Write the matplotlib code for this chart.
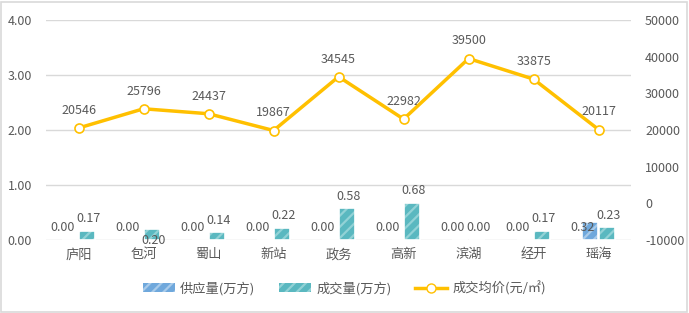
import matplotlib
matplotlib.use('Agg')
import matplotlib.pyplot as plt
import numpy as np
from matplotlib.patches import Rectangle
from matplotlib.lines import Line2D
from matplotlib.patches import Patch

plt.rcParams['font.family'] = ['Noto Sans CJK SC', 'DejaVu Sans']
plt.rcParams['hatch.linewidth'] = 1.6

# data
districts = ['庐阳', '包河', '蜀山', '新站', '政务', '高新', '滨湖', '经开', '瑶海']
supply = [0.00, 0.00, 0.00, 0.00, 0.00, 0.00, 0.00, 0.00, 0.32]
deal = [0.17, 0.20, 0.14, 0.22, 0.58, 0.68, 0.00, 0.17, 0.23]
price = [20546, 25796, 24437, 19867, 34545, 22982, 39500, 33875, 20117]

TXT = '#595959'
GRID = '#D9D9D9'
C_SUP = '#6FA8DC'
C_SUP_H = '#A9CBEA'
C_DEAL = '#5AB8C0'
C_DEAL_H = '#92D2D6'
C_LINE = '#FFC000'

fig = plt.figure(figsize=(6.89, 3.13), dpi=100)
fig.patches.append(Rectangle((0.002, 0.004), 0.995, 0.99, transform=fig.transFigure,
                             fill=False, edgecolor=GRID, linewidth=1.2))
ax = fig.add_axes([0.0668, 0.2332, 0.8492, 0.7028])
ax2 = ax.twinx()

x = np.arange(len(districts))
w = 0.24

ax.bar(x - w / 2 - 0.01, supply, w, facecolor=C_SUP, edgecolor=C_SUP_H, hatch='///',
       linewidth=0, zorder=3)
ax.bar(x + w / 2 + 0.01, deal, w, facecolor=C_DEAL, edgecolor=C_DEAL_H, hatch='///',
       linewidth=0, zorder=3)
# white outline round bars
ax.bar(x - w / 2 - 0.01, supply, w, fill=False, edgecolor='white', linewidth=1.2, zorder=4)
ax.bar(x + w / 2 + 0.01, deal, w, fill=False, edgecolor='white', linewidth=1.2, zorder=4)

for i in range(len(districts)):
    # supply labels sit just above the baseline (as in the source chart)
    ax.annotate('%.2f' % supply[i], (x[i] - w / 2 - 0.12, 0), xytext=(0, 4),
                textcoords='offset points', ha='center', va='bottom',
                fontsize=9, color=TXT, zorder=6)
    if i == 1:
        ax.annotate('%.2f' % deal[i], (x[i] + w / 2 + 0.03, 0), xytext=(0, 0),
                    textcoords='offset points', ha='center', va='center',
                    fontsize=9, color=TXT, zorder=6)
    else:
        ax.annotate('%.2f' % deal[i], (x[i] + w / 2 + 0.03, deal[i]), xytext=(0, 4),
                    textcoords='offset points', ha='center', va='bottom',
                    fontsize=9, color=TXT, zorder=6)

ax.set_ylim(0, 4)
ax.set_yticks([0, 1, 2, 3, 4])
ax.set_yticklabels(['%.2f' % v for v in [0, 1, 2, 3, 4]])
ax.set_xlim(-0.5, len(districts) - 0.5)
ax.set_xticks(x)
ax.set_xticklabels(districts, fontsize=9.5)
ax.yaxis.grid(True, color=GRID, linewidth=1)
ax.set_axisbelow(True)

ax2.plot(x, price, color=C_LINE, linewidth=2.5, marker='o', markersize=6.5,
         markerfacecolor='white', markeredgecolor=C_LINE, markeredgewidth=1.2, zorder=5)
for i in range(len(districts)):
    ax2.annotate(str(price[i]), (x[i], price[i]), xytext=(0, 8), textcoords='offset points',
                 ha='center', va='bottom', fontsize=9, color=TXT)
ax2.set_ylim(-10000, 50000)
ax2.set_yticks(range(-10000, 50001, 10000))
ax2.set_yticklabels([str(v) for v in range(-10000, 50001, 10000)])

for a in (ax, ax2):
    for s in a.spines.values():
        s.set_visible(False)
    a.tick_params(length=0, colors=TXT, labelsize=9)
ax.tick_params(axis='x', pad=6, labelsize=9.5)
ax.tick_params(axis='y', pad=10)
ax2.tick_params(axis='y', pad=10)

handles = [Patch(facecolor=C_SUP, edgecolor=C_SUP_H, hatch='///', linewidth=0),
           Patch(facecolor=C_DEAL, edgecolor=C_DEAL_H, hatch='///', linewidth=0),
           Line2D([], [], color=C_LINE, linewidth=2.5, marker='o', markersize=6.5,
                  markerfacecolor='white', markeredgecolor=C_LINE)]
fig.legend(handles, ['供应量(万方)', '成交量(万方)', '成交均价(元/㎡)'], loc='center',
           bbox_to_anchor=(0.5, 0.08), ncol=3, frameon=False, fontsize=9.5,
           labelcolor=TXT, handlelength=2.4, handleheight=0.6, columnspacing=1.8,
           handletextpad=0.4)

fig.savefig('out.png', dpi=100)
